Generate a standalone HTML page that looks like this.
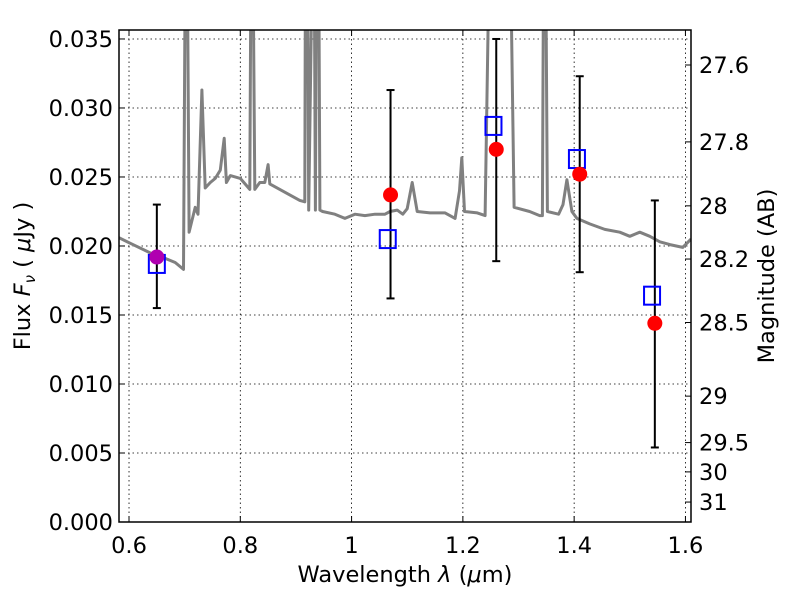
<!DOCTYPE html>
<html><head><meta charset="utf-8"><style>
body{margin:0;background:#fff;}
svg{display:block;font-family:"DejaVu Sans","Liberation Sans",sans-serif;}
</style></head><body>
<svg id="chart" width="800" height="600" viewBox="0 0 800 600">
<defs><clipPath id="clip"><rect x="119" y="30" width="572" height="492"/></clipPath></defs>
<g id="grid"></g>
<g id="spec" clip-path="url(#clip)"></g>
<g id="marks"></g>
<rect x="119" y="30" width="572" height="492" fill="none" stroke="#000" stroke-width="1.5"/>
<g id="axes"></g>
<text x="405" y="582" font-size="22.5" text-anchor="middle">Wavelength  <tspan font-style="italic">λ</tspan> (<tspan font-style="italic">μ</tspan>m)</text>
<text transform="translate(30,276) rotate(-90)" font-size="22.5" text-anchor="middle">Flux  <tspan font-style="italic">F</tspan><tspan font-style="italic" font-size="15" dy="5">ν</tspan><tspan dy="-5">  ( </tspan><tspan font-style="italic">μ</tspan>Jy )</text>
<text transform="translate(774,276) rotate(-90)" font-size="22.5" text-anchor="middle">Magnitude (AB)</text>
</svg>
<script>
const specWave=[0.582,0.602,0.638,0.665,0.683,0.698,0.701,0.705,0.708,0.719,0.724,0.731,0.737,0.746,0.755,0.764,0.771,0.775,0.782,0.800,0.817,0.819,0.823,0.826,0.835,0.844,0.850,0.853,0.871,0.889,0.907,0.916,0.917,0.921,0.923,0.929,0.933,0.935,0.937,0.941,0.943,0.948,0.970,0.988,1.006,1.024,1.042,1.060,1.069,1.082,1.092,1.100,1.109,1.118,1.141,1.168,1.186,1.194,1.198,1.203,1.226,1.240,1.247,1.286,1.292,1.320,1.338,1.343,1.345,1.349,1.352,1.372,1.380,1.387,1.396,1.405,1.428,1.455,1.482,1.500,1.518,1.536,1.554,1.572,1.595,1.610];
const specFlux=[0.0206,0.0202,0.0195,0.0191,0.0188,0.0183,0.040,0.040,0.0210,0.0228,0.0223,0.0313,0.0242,0.0246,0.0249,0.0255,0.0278,0.0246,0.0251,0.0249,0.0241,0.040,0.040,0.0241,0.0246,0.0246,0.0259,0.0245,0.0241,0.0237,0.0233,0.0232,0.040,0.040,0.0226,0.040,0.040,0.0226,0.040,0.040,0.0226,0.0225,0.0223,0.0220,0.0223,0.0222,0.0223,0.0223,0.0225,0.0226,0.0223,0.0227,0.0246,0.0225,0.0224,0.0224,0.0220,0.0240,0.0264,0.0225,0.0224,0.0222,0.040,0.040,0.0228,0.0225,0.0222,0.0222,0.040,0.040,0.0225,0.0223,0.0230,0.0248,0.0225,0.0220,0.0216,0.0212,0.0210,0.0207,0.0210,0.0207,0.0203,0.0201,0.0199,0.0205];
const obsWave=[0.65,1.07,1.26,1.41,1.545];
const obsFlux=[0.0192,0.0237,0.0270,0.0252,0.0144];
const errLow=[0.0155,0.0162,0.0189,0.0181,0.0054];
const errHigh=[0.0230,0.0313,0.0350,0.0323,0.0233];
const modWave=[0.65,1.065,1.255,1.405,1.54];
const modFlux=[0.0187,0.0205,0.0287,0.0263,0.0164];
const xTicks=[0.6,0.8,1.0,1.2,1.4,1.6];
const xTickLabels=["0.6","0.8","1","1.2","1.4","1.6"];
const yTicks=[0,0.005,0.01,0.015,0.02,0.025,0.03,0.035];
const yTickLabels=["0.000","0.005","0.010","0.015","0.020","0.025","0.030","0.035"];
const magTicks=[27.6,27.8,28,28.2,28.5,29,29.5,30,31];
const magTickLabels=["27.6","27.8","28","28.2","28.5","29","29.5","30","31"];

const X0=119,X1=691,Y0=522,Y1=30,xmin=0.582,xmax=1.610,ymin=0,ymax=0.03565;
const sx=v=>X0+(v-xmin)/(xmax-xmin)*(X1-X0);
const sy=v=>Y0-(v-ymin)/(ymax-ymin)*(Y0-Y1);
const magToFlux=m=>Math.pow(10,(23.9-m)/2.5);
const NS="http://www.w3.org/2000/svg";
function mk(tag,attrs,parent){const e=document.createElementNS(NS,tag);for(const k in attrs)e.setAttribute(k,attrs[k]);parent.appendChild(e);return e;}
const grid=document.getElementById('grid'),axes=document.getElementById('axes'),spec=document.getElementById('spec'),marks=document.getElementById('marks');

xTicks.forEach((t,i)=>{const x=sx(t);
 const g=mk('line',{x1:x,x2:x,y1:Y1,y2:Y0,stroke:'#000','stroke-width':0.8,'stroke-dasharray':'1.5,3'},grid);
 
 
 mk('line',{x1:x,x2:x,y1:Y0,y2:Y0-6,stroke:'#000','stroke-width':1},axes);
 mk('line',{x1:x,x2:x,y1:Y1,y2:Y1+6,stroke:'#000','stroke-width':1},axes);
 const tx=mk('text',{x:x,y:553,'font-size':22.5,'text-anchor':'middle'},axes);tx.textContent=xTickLabels[i];
 
 
});
yTicks.forEach((t,i)=>{const y=sy(t);
 if(i>0){const g=mk('line',{x1:X0,x2:X1,y1:y,y2:y,stroke:'#000','stroke-width':0.8,'stroke-dasharray':'1.5,3'},grid);
 
 }
 mk('line',{x1:X0,x2:X0+6,y1:y,y2:y,stroke:'#000','stroke-width':1},axes);
 const tx=mk('text',{x:113,y:y+8,'font-size':22.5,'text-anchor':'end'},axes);tx.textContent=yTickLabels[i];
 
 
});
magTicks.forEach((m,i)=>{const y=sy(magToFlux(m));
 mk('line',{x1:X1-6,x2:X1,y1:y,y2:y,stroke:'#000','stroke-width':1},axes);
 const tx=mk('text',{x:699,y:y+8,'font-size':22.5,'text-anchor':'start'},axes);tx.textContent=magTickLabels[i];
 
 
});
const pts=specWave.map((w,i)=>sx(w).toFixed(1)+','+sy(specFlux[i]).toFixed(1)).join(' ');
const pl=mk('polyline',{points:pts,fill:'none',stroke:'#808080','stroke-width':3,'stroke-linejoin':'round'},spec);


obsWave.forEach((w,i)=>{const x=sx(w);
 const eb=mk('g',{},marks);
 
 
 mk('line',{x1:x,x2:x,y1:sy(errLow[i]),y2:sy(errHigh[i]),stroke:'#000','stroke-width':2},eb);
 mk('line',{x1:x-4,x2:x+4,y1:sy(errLow[i]),y2:sy(errLow[i]),stroke:'#000','stroke-width':2},eb);
 mk('line',{x1:x-4,x2:x+4,y1:sy(errHigh[i]),y2:sy(errHigh[i]),stroke:'#000','stroke-width':2},eb);
});
modWave.forEach((w,i)=>{
 const r=mk('rect',{x:sx(w)-8,y:sy(modFlux[i])-9,width:16,height:18,fill:'none',stroke:'#0000ff','stroke-width':2},marks);
 
 
});
obsWave.forEach((w,i)=>{
 const c=mk('circle',{cx:sx(w),cy:sy(obsFlux[i]),r:7.5,fill:i===0?'#b000b0':'#ff0000'},marks);
 
 
});
</script>
</body></html>
